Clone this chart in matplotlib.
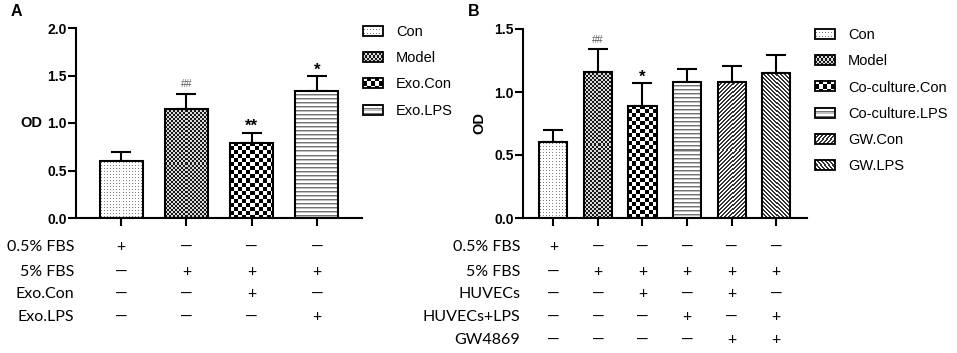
import numpy as np
import matplotlib.pyplot as plt
from matplotlib.patches import Patch, Rectangle
from matplotlib.image import BboxImage
from matplotlib.transforms import Bbox, TransformedBbox, blended_transform_factory

# ---- data ----
a_groups = ["Con", "Model", "Exo.Con", "Exo.LPS"]
a_means = [0.60, 1.15, 0.79, 1.34]
a_sd = [0.10, 0.16, 0.11, 0.15]
a_marks = ["", "##", "**", "*"]
a_rows = ["0.5% FBS", "5% FBS", "Exo.Con", "Exo.LPS"]
a_table = [[1, 0, 0, 0],
           [0, 1, 1, 1],
           [0, 0, 1, 0],
           [0, 0, 0, 1]]

b_groups = ["Con", "Model", "Co-culture.Con", "Co-culture.LPS", "GW.Con", "GW.LPS"]
b_means = [0.60, 1.16, 0.89, 1.08, 1.08, 1.15]
b_sd = [0.10, 0.18, 0.18, 0.10, 0.13, 0.14]
b_marks = ["", "##", "*", "", "", ""]
b_rows = ["0.5% FBS", "5% FBS", "HUVECs", "HUVECs+LPS", "GW4869"]
b_table = [[1, 0, 0, 0, 0, 0],
           [0, 1, 1, 1, 1, 1],
           [0, 0, 1, 0, 1, 0],
           [0, 0, 0, 1, 0, 1],
           [0, 0, 0, 0, 1, 1]]

a_fills = ["dots", "fine", "checker", "hlines"]
b_fills = ["dots", "fine", "checker", "hlines", "fwd", "back"]

W, H = 957, 353
fig = plt.figure(figsize=(W / 100, H / 100), dpi=100)
plt.rcParams['font.family'] = ['Liberation Sans', 'DejaVu Sans']
TABLE_FONT = 'Lato'
LEG_FS = 10.5


def make_pattern(name, h, w):
    h, w = max(h, 2), max(w, 2)
    r, c = np.mgrid[0:h, 0:w]
    img = np.ones((h, w))
    if name == "dots":
        img[(r % 3 == 1) & (c % 3 == 1)] = 0.5
    elif name == "fine":
        img = np.where((r // 2 + c // 2) % 2, 0.1, 0.85)
    elif name == "checker":
        img = np.where((r // 4 + c // 4) % 2, 0.0, 1.0)
    elif name == "hlines":
        img[r % 4 == 0] = 0.45
        img[r % 4 == 1] = 0.75
    elif name == "fwd":
        img[(r + c) % 4 < 2] = 0.2
    elif name == "back":
        img[(c - r) % 4 < 2] = 0.2
    return img


class PatternHandler:
    def __init__(self, name):
        self.name = name

    def legend_artist(self, legend, orig_handle, fontsize, handlebox):
        x0, y0 = -handlebox.xdescent, -handlebox.ydescent
        w, h = handlebox.width, handlebox.height
        tr = handlebox.get_transform()
        img = BboxImage(TransformedBbox(Bbox.from_bounds(x0, y0, w, h), tr),
                        cmap="gray", norm=plt.Normalize(0, 1),
                        interpolation="nearest")
        img.set_data(make_pattern(self.name, int(round(h * 100 / 72)),
                                  int(round(w * 100 / 72))))
        handlebox.add_artist(img)
        rect = Rectangle((x0, y0), w, h, fill=False, edgecolor="black",
                         lw=1.3, transform=tr)
        handlebox.add_artist(rect)
        return rect


def px_axes(l, t, r, b):
    return fig.add_axes([l / W, 1 - b / H, (r - l) / W, (b - t) / H])


def panel(ax, groups, means, sd, marks, fills, width, xlim, ymax, yticks,
          rows, table, label_x, leg_x, leg_y):
    x = np.arange(len(groups))
    ax.set_xlim(*xlim)
    ax.set_ylim(0, ymax)
    bars = ax.bar(x, means, width, fill=False, edgecolor="black", lw=1.5, zorder=3)
    for rect, f in zip(bars, fills):
        x0, w, h = rect.get_x(), rect.get_width(), rect.get_height()
        p0 = ax.transData.transform((x0, 0))
        p1 = ax.transData.transform((x0 + w, h))
        ax.imshow(make_pattern(f, int(round(p1[1] - p0[1])), int(round(p1[0] - p0[0]))),
                  extent=(x0, x0 + w, 0, h), aspect="auto", cmap="gray",
                  vmin=0, vmax=1, interpolation="nearest", zorder=2)
    ax.errorbar(x, means, yerr=[np.zeros(len(x)), sd], fmt="none", ecolor="black",
                elinewidth=1.5, capsize=7, capthick=1.5, zorder=1)
    ax.set_xlim(*xlim)
    ax.set_ylim(0, ymax)
    for xi, m, s, mk in zip(x, means, sd, marks):
        if mk.startswith("#"):
            ax.annotate(mk, (xi, m + s), xytext=(0, 3), textcoords="offset points",
                        ha="center", va="bottom", fontsize=7.5, color="0.35")
        elif mk:
            ax.annotate(mk, (xi, m + s), xytext=(0, -1), textcoords="offset points",
                        ha="center", va="bottom", fontsize=12, fontweight="bold")

    ax.set_xticks(x)
    ax.set_xticklabels([])
    ax.set_yticks(yticks)
    ax.set_yticklabels([f"{t:.1f}" for t in yticks], fontweight="bold", fontsize=10)
    ax.tick_params(length=5.5, width=1.5, pad=1)
    for s in ["top", "right"]:
        ax.spines[s].set_visible(False)
    for s in ["left", "bottom"]:
        ax.spines[s].set_linewidth(1.5)

    # treatment table under the bars
    row_y = [247, 272, 294, 317, 340]
    trans = blended_transform_factory(ax.transData, fig.transFigure)
    for ri, (name, flags) in enumerate(zip(rows, table)):
        yf = 1 - row_y[ri] / H
        fig.text(label_x / W, yf, name, ha="right", va="center",
                 family=TABLE_FONT, fontsize=11.5)
        for xi, fl in zip(x, flags):
            ax.text(xi, yf, "+" if fl else "\u2014", transform=trans, ha="center",
                    va="center", family=TABLE_FONT, fontsize=11.5, clip_on=False)

    handles = [Patch(label=g) for g in groups]
    ax.legend(handles=handles, handler_map={h: PatternHandler(f) for h, f in zip(handles, fills)},
              loc="upper left", bbox_to_anchor=(leg_x / W, 1 - leg_y / H),
              bbox_transform=fig.transFigure, frameon=False, fontsize=LEG_FS,
              borderpad=0, borderaxespad=0, handlelength=1.37, handleheight=0.69,
              handletextpad=0.9, labelspacing=0.84)


axA = px_axes(76, 28, 362, 218)
panel(axA, a_groups, a_means, a_sd, a_marks, a_fills, 0.66, (-0.69, 3.69), 2.0,
      [0, 0.5, 1.0, 1.5, 2.0], a_rows, a_table, 74, 363, 25)
axA.set_ylabel("OD", rotation=0, fontweight="bold", fontsize=10.5, ha="right", va="center")
axA.yaxis.set_label_coords((42 - 76) / 286, 0.5)

axB = px_axes(523, 29, 807, 218)
panel(axB, b_groups, b_means, b_sd, b_marks, b_fills, 0.63, (-0.68, 5.69), 1.5,
      [0, 0.5, 1.0, 1.5], b_rows, b_table, 520, 815, 28)
axB.set_ylabel("OD", fontweight="bold", fontsize=10.5, ha="center", va="center")
axB.yaxis.set_label_coords((479 - 523) / 284, 0.5)

fig.text(16 / W, 1 - 12 / H, "A", fontweight="bold", fontsize=11.5, ha="center", va="center")
fig.text(474 / W, 1 - 12 / H, "B", fontweight="bold", fontsize=11.5, ha="center", va="center")

fig.savefig("out.png", dpi=100)
